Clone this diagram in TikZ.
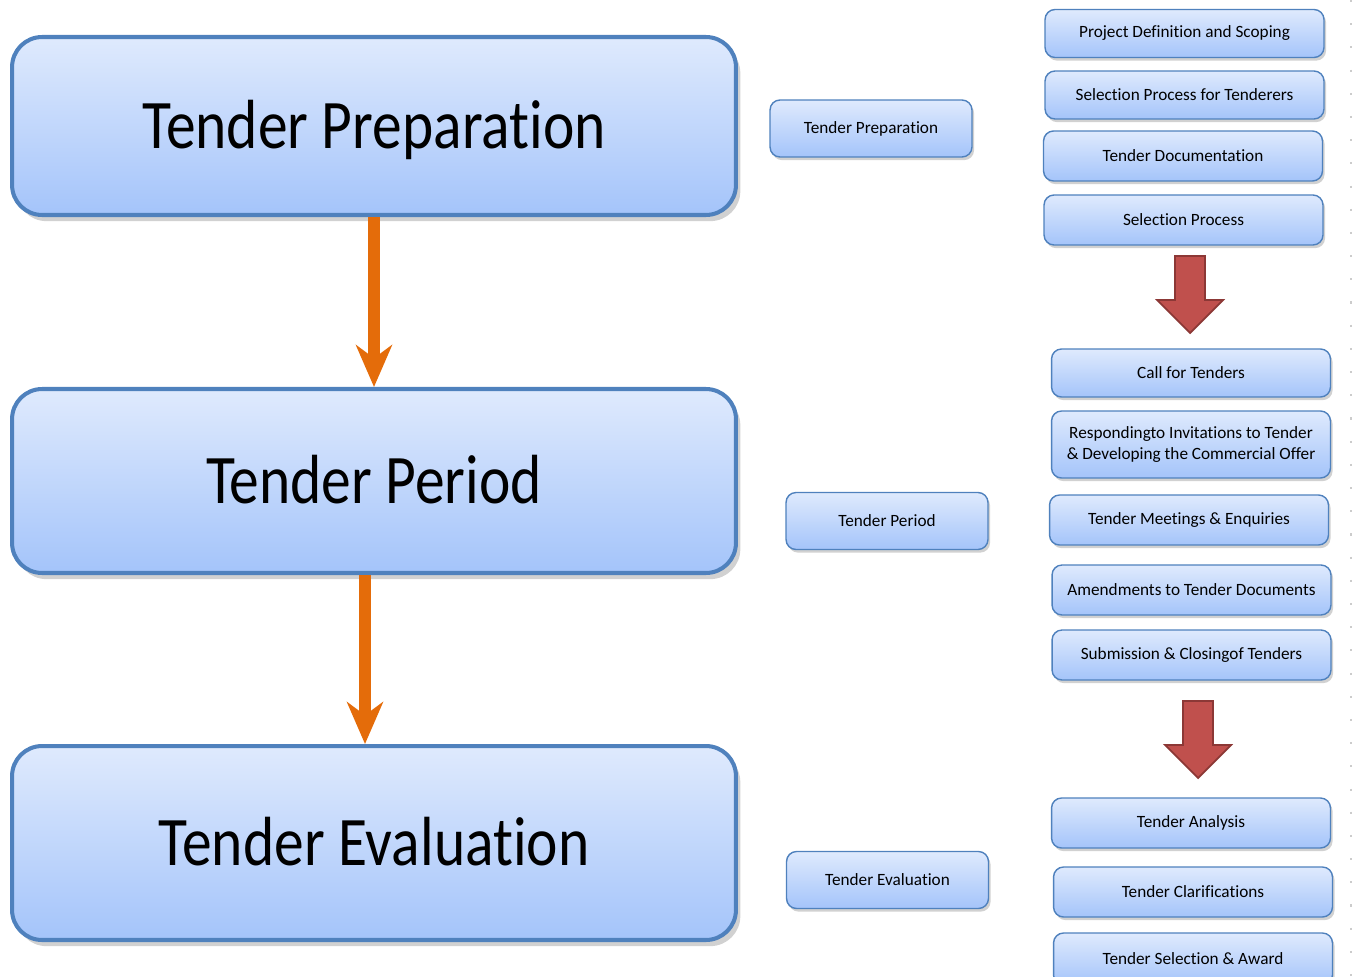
\documentclass[tikz,border=0pt]{standalone}
\usepackage{fontspec}
\setmainfont{Carlito}[Ligatures=CommonOff]
\newfontfamily\bigfont[FakeStretch=0.855,Ligatures=CommonOff]{Carlito}
\usetikzlibrary{arrows.meta,shadows,calc}
\definecolor{edge}{RGB}{79,129,189}
\definecolor{paletop}{RGB}{223,234,253}
\definecolor{palebot}{RGB}{164,196,250}
\definecolor{flowc}{RGB}{228,108,10}
\definecolor{redfill}{RGB}{192,80,77}
\definecolor{redline}{RGB}{140,56,54}

\tikzset{
  bigstage/.style={draw=edge,line width=2.3pt,rounded corners=0.6cm,
    top color=paletop,bottom color=palebot,minimum width=14.48cm,
    text height=26pt,text depth=0pt,
    font=\bigfont\fontsize{39.6}{44}\selectfont,
    drop shadow={shadow xshift=2.5pt,shadow yshift=-3.5pt,opacity=0.3,fill=black!60}},
  ministage/.style={draw=edge,line width=0.8pt,rounded corners=0.2cm,
    top color=paletop,bottom color=palebot,minimum width=4.04cm,minimum height=1.14cm,
    align=center,font=\fontsize{9.8}{11.4}\selectfont,
    drop shadow={shadow xshift=1.2pt,shadow yshift=-1.8pt,opacity=0.3,fill=black!60}},
  substep/.style={ministage,minimum width=5.58cm},
  flow/.style={draw=flowc,line width=6.8pt,
    -{Stealth[length=23.8pt,width=20.4pt,inset=7.4pt]}},
  blockarrow/.style={fill=redfill,draw=redline,line width=1pt,line join=miter}
}

\begin{document}
\begin{tikzpicture}[x=0.02cm,y=-0.02cm]
  \useasboundingbox (0,0) rectangle (1354,976);

  % main stages
  \node[bigstage,minimum height=3.56cm] (tprep) at (374,126) {Tender Preparation};
  \node[bigstage,minimum height=3.68cm] (tper)  at (374,481) {Tender Period};
  \node[bigstage,minimum height=3.88cm] (teval) at (374,843) {Tender Evaluation};

  \draw[flow] (tprep.south) -- (tper.north);
  \draw[flow] ($(tper.south)+(-9,0)$) -- ($(teval.north)+(-9,0)$);

  % stage labels
  \node[ministage] (mprep) at (871,128.5) {Tender Preparation};
  \node[ministage] (mper)  at (887,521)   {Tender Period};
  \node[ministage] (meval) at (887.5,880) {Tender Evaluation};

  % sub steps
  \foreach \n/\x/\y/\h/\txt in {
    1/1184.5/33.5/0.96/{Project Definition and Scoping},
    2/1184.5/95/0.96/{Selection Process for Tenderers},
    3/1183/156/1.0/{Tender Documentation},
    4/1183.5/220/1.0/{Selection Process},
    5/1191/373/0.96/{Call for Tenders},
    6/1191/444.5/1.34/{Respondingto Invitations to Tender\\ \& Developing the Commercial Offer},
    7/1189/520/1.0/{Tender Meetings \& Enquiries},
    8/1191.5/590/1.0/{Amendments to Tender Documents},
    9/1191.5/655/1.0/{Submission \& Closingof Tenders},
    10/1191/823/1.0/{Tender Analysis},
    11/1193/892/1.0/{Tender Clarifications},
    12/1193/959/1.04/{Tender Selection \& Award}}{
    \node[substep,minimum height=\h cm] (r\n) at (\x,\y) {\txt};
  }

  % block arrows between groups
  \foreach \ax/\ay in {1190/256, 1198/701}{
    \draw[blockarrow] (\ax-15,\ay) -- (\ax+15,\ay) -- (\ax+15,\ay+44)
      -- (\ax+33,\ay+44) -- (\ax,\ay+77) -- (\ax-33,\ay+44)
      -- (\ax-15,\ay+44) -- cycle;
  }

  \draw[black!20,line width=0.8pt,dash pattern=on 1.2pt off 12pt] (1351,0) -- (1351,976);
\end{tikzpicture}
\end{document}
